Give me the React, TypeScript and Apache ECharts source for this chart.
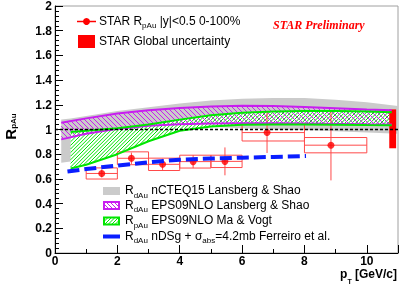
import { useEffect, useRef } from 'react';
import * as echarts from 'echarts';

const FONT = '"Liberation Sans", Arial, Helvetica, sans-serif';
const SERIF = '"Liberation Serif", "Times New Roman", serif';

// STAR R_pAu data points
const starPt = [1.5, 2.45, 3.45, 4.43, 5.45, 6.8, 8.85];
const starR = [0.644, 0.767, 0.718, 0.74, 0.742, 0.975, 0.873];
const starStat = [0.033, 0.046, 0.045, 0.053, 0.113, 0.165, 0.285];
const boxLow = [1, 2, 3, 4, 5, 6, 8];
const boxHigh = [2, 3, 4, 5, 6, 8, 10];
const starSys = [0.045, 0.052, 0.05, 0.052, 0.05, 0.068, 0.062];

// global uncertainty
const globalX = [10.72, 10.94];
const globalY = [0.848, 1.163];

// nCTEQ15 (gray)
const grayX = [0.2, 0.5, 1, 2, 3, 4, 5, 6, 7, 8, 9, 10, 11];
const grayHi = [1.08, 1.09, 1.11, 1.15, 1.18, 1.21, 1.235, 1.25, 1.255, 1.255, 1.24, 1.22, 1.19];
const grayLo = [0.73, 0.74, 0.8, 0.9, 0.96, 1.0, 1.02, 1.01, 1.0, 0.995, 0.985, 0.975, 0.965];

// EPS09NLO Lansberg & Shao (magenta)
const magX = [0.2, 1, 2, 3, 4, 5, 6, 7, 8, 9, 10, 10.8];
const magHi = [1.055, 1.09, 1.13, 1.155, 1.175, 1.187, 1.192, 1.19, 1.182, 1.172, 1.162, 1.155];
const magLo = [0.92, 0.965, 1.005, 1.03, 1.042, 1.048, 1.05, 1.05, 1.048, 1.045, 1.042, 1.04];

// EPS09NLO Ma & Vogt (green)
const grnX = [0.5, 1, 2, 3, 4, 5, 6, 7, 8, 9, 10, 10.8];
const grnHi = [0.98, 0.99, 1.01, 1.04, 1.08, 1.115, 1.135, 1.145, 1.15, 1.15, 1.145, 1.14];
const grnLo = [0.684, 0.714, 0.8, 0.905, 0.99, 1.025, 1.038, 1.04, 1.04, 1.038, 1.036, 1.035];

// nDSg Ferreiro (blue dashed)
const blueX = [0.4, 1, 2, 3, 4, 5, 6, 7, 8.05];
const blueY = [0.66, 0.68, 0.708, 0.735, 0.755, 0.765, 0.772, 0.778, 0.785];

const legendTop = [
  '{b|STAR R}{s|pAu}{b| |y|<0.5 0-100%}',
  '{b|STAR Global uncertainty}',
];
const legendBottom = [
  '{b|R}{s|dAu}{b| nCTEQ15 Lansberg & Shao}',
  '{b|R}{s|dAu}{b| EPS09NLO Lansberg & Shao}',
  '{b|R}{s|pAu}{b| EPS09NLO Ma & Vogt}',
  '{b|R}{s|dAu}{b| nDSg + σ}{s|abs}{b|=4.2mb Ferreiro et al.}',
];

const RED = '#ff0000';
const BOXRED = '#ff4a4a';
const MAG = '#c81ef0';
const GRN = '#00e600';
const BLUE = '#0a1eff';
const GRAY = '#cbcbcb';

function zip(xs: number[], ys: number[]) {
  return xs.map((x, i) => [x, ys[i]]);
}

function interp(arr: number[][], px: number) {
  if (px <= arr[0][0]) return arr[0][1];
  for (let i = 0; i < arr.length - 1; i++) {
    const a = arr[i], b = arr[i + 1];
    if (px <= b[0]) return a[1] + ((b[1] - a[1]) * (px - a[0])) / (b[0] - a[0]);
  }
  return arr[arr.length - 1][1];
}

// diagonal hatch lines clipped to the band between up (pixel) and lo (pixel)
function hatchLines(up: number[][], lo: number[][], spacing: number, dir: 'back' | 'fwd', color: string, lw: number) {
  const x0 = up[0][0], x1 = up[up.length - 1][0];
  let yMin = Infinity, yMax = -Infinity;
  up.forEach((p) => (yMin = Math.min(yMin, p[1])));
  lo.forEach((p) => (yMax = Math.max(yMax, p[1])));
  const back = dir === 'back';
  const cStart = back ? yMin - x1 : yMin + x0;
  const cEnd = back ? yMax - x0 : yMax + x1;
  const out: any[] = [];
  const step = 0.4;
  for (let c = Math.floor(cStart / spacing) * spacing; c <= cEnd; c += spacing) {
    let s: number[] | null = null;
    let prev: number[] | null = null;
    for (let px = x0; px <= x1 + 1e-6; px += step) {
      const y = back ? px + c : -px + c;
      const inside = y >= interp(up, px) && y <= interp(lo, px);
      if (inside && !s) s = [px, y];
      if (!inside && s && prev) {
        out.push({ type: 'line', shape: { x1: s[0], y1: s[1], x2: prev[0], y2: prev[1] }, style: { stroke: color, lineWidth: lw } });
        s = null;
      }
      prev = [px, y];
    }
    if (s && prev) out.push({ type: 'line', shape: { x1: s[0], y1: s[1], x2: prev[0], y2: prev[1] }, style: { stroke: color, lineWidth: lw } });
  }
  return out;
}

function band(xs: number[], lo: number[], hi: number[], bg: string | null, hatch: { spacing: number; dir: 'back' | 'fwd'; color: string } | null) {
  return {
    type: 'custom',
    silent: true,
    data: [[xs[0], lo[0]]],
    encode: { x: 0, y: 1 },
    renderItem: (_p: any, api: any) => {
      const up = xs.map((x, i) => api.coord([x, hi[i]]));
      const dn = xs.map((x, i) => api.coord([x, lo[i]]));
      const children: any[] = [];
      if (bg) {
        const pts = up.concat(dn.slice().reverse());
        children.push({ type: 'polygon', shape: { points: pts }, style: { fill: bg, lineWidth: 0 } });
      }
      if (hatch) children.push(...hatchLines(up, dn, hatch.spacing, hatch.dir, hatch.color, 1));
      return { type: 'group', children };
    },
  };
}

function edge(xs: number[], ys: number[], color: string) {
  return {
    type: 'line',
    silent: true,
    data: zip(xs, ys),
    symbol: 'none',
    lineStyle: { color, width: 2 },
  };
}

function iconHatch(x: number, y: number, w: number, h: number, spacing: number, dir: 'back' | 'fwd', color: string) {
  const up = [[x, y], [x + w, y]];
  const lo = [[x, y + h], [x + w, y + h]];
  return hatchLines(up, lo, spacing, dir, color, 1).map((e) => ({ ...e, z: 101 }));
}

export default function App() {
  const ref = useRef<HTMLDivElement>(null);
  useEffect(() => {
    const chart = echarts.init(ref.current!, null, { renderer: 'svg' });

    const baseRich = (size: number, bold: boolean, lh: number, subPad: number, subSize: number) => ({
      b: { fontSize: size, fontFamily: FONT, fontWeight: bold ? 'bold' : 'normal', lineHeight: lh, verticalAlign: 'top', fill: '#000' },
      s: { fontSize: subSize, fontFamily: FONT, fontWeight: bold ? 'bold' : 'normal', lineHeight: subSize, padding: [subPad, 0, 0, 0], verticalAlign: 'top', fill: '#000' },
    });

    const rowsY = [191, 205.5, 221, 236.5];

    const option: any = {
      animation: false,
      grid: { left: 55, right: 1, top: 5, bottom: 33, show: true, borderColor: '#a0a0a0', borderWidth: 1 },
      xAxis: {
        type: 'value',
        min: 0,
        max: 11,
        interval: 2,
        axisLine: { show: true, onZero: false, lineStyle: { color: '#000', width: 1 } },
        axisTick: { show: true, inside: true, length: 8, lineStyle: { color: '#000' } },
        minorTick: { show: true, splitNumber: 2, length: 4, lineStyle: { color: '#000' } },
        splitLine: { show: false },
        axisLabel: { margin: 2, fontSize: 12, lineHeight: 12, fontWeight: 'bold', fontFamily: FONT, color: '#000', showMaxLabel: false },
      },
      yAxis: {
        type: 'value',
        min: 0,
        max: 2,
        interval: 0.2,
        axisLine: { show: true, onZero: false, lineStyle: { color: '#000', width: 1 } },
        axisTick: { show: true, inside: true, length: 8, lineStyle: { color: '#000' } },
        minorTick: { show: true, splitNumber: 5, length: 4, lineStyle: { color: '#000' } },
        splitLine: { show: false },
        axisLabel: { margin: 3, fontSize: 12, fontWeight: 'bold', fontFamily: FONT, color: '#000' },
      },
      series: [
        band(grayX, grayLo, grayHi, GRAY, null),
        band(grnX, grnLo, grnHi, '#ffffff', { spacing: 3.6, dir: 'fwd', color: GRN }),
        band(magX, magLo, magHi, null, { spacing: 5, dir: 'back', color: MAG }),
        edge(magX, magHi, MAG),
        edge(magX, magLo, MAG),
        edge(grnX, grnHi, GRN),
        edge(grnX, grnLo, GRN),
        {
          type: 'line',
          silent: true,
          data: [[0, 1], [11, 1]],
          symbol: 'none',
          lineStyle: { color: '#000', width: 1.5, type: [3, 2] },
        },
        {
          type: 'custom',
          silent: true,
          data: starPt.map((x, i) => [x, starR[i], boxLow[i], boxHigh[i], starSys[i], starStat[i]]),
          encode: { x: 0, y: 1 },
          renderItem: (_p: any, api: any) => {
            const x = api.value(0), y = api.value(1), xl = api.value(2), xh = api.value(3);
            const sys = api.value(4), st = api.value(5);
            const tl = api.coord([xl, y + sys]);
            const br = api.coord([xh, y - sys]);
            const cl = api.coord([xl, y]);
            const cr = api.coord([xh, y]);
            const et = api.coord([x, y + st]);
            const eb = api.coord([x, y - st]);
            return {
              type: 'group',
              children: [
                { type: 'rect', shape: { x: tl[0], y: tl[1], width: br[0] - tl[0], height: br[1] - tl[1] }, style: { fill: 'none', stroke: BOXRED, lineWidth: 1 } },
                { type: 'line', shape: { x1: cl[0], y1: cl[1], x2: cr[0], y2: cr[1] }, style: { stroke: BOXRED, lineWidth: 1 } },
                { type: 'line', shape: { x1: et[0], y1: et[1], x2: eb[0], y2: eb[1] }, style: { stroke: BOXRED, lineWidth: 1 } },
              ],
            };
          },
        },
        {
          type: 'line',
          silent: true,
          data: zip(blueX, blueY),
          symbol: 'none',
          lineStyle: { color: BLUE, width: 4, type: [12, 5] },
        },
        {
          type: 'scatter',
          silent: true,
          data: zip(starPt, starR),
          symbol: 'circle',
          symbolSize: 7,
          itemStyle: { color: RED },
        },
        {
          type: 'custom',
          silent: true,
          data: [[globalX[0], globalY[0], globalX[1], globalY[1]]],
          encode: { x: 0, y: 1 },
          renderItem: (_p: any, api: any) => {
            const a = api.coord([api.value(0), api.value(3)]);
            const b = api.coord([api.value(2), api.value(1)]);
            return { type: 'rect', shape: { x: a[0], y: a[1], width: b[0] - a[0], height: b[1] - a[1] }, style: { fill: RED } };
          },
        },
      ],
      graphic: [
        // top legend
        { type: 'line', shape: { x1: 77, y1: 21.5, x2: 96, y2: 21.5 }, style: { stroke: RED, lineWidth: 1.5 }, z: 100 },
        { type: 'circle', shape: { cx: 86.5, cy: 21.5, r: 3.5 }, style: { fill: RED }, z: 100 },
        { type: 'rect', shape: { x: 78, y: 35, width: 17, height: 13 }, style: { fill: RED }, z: 100 },
        {
          type: 'text', x: 99, y: 14.5, z: 100,
          style: { text: legendTop[0], rich: baseRich(12, false, 14, 7, 8), align: 'left', verticalAlign: 'top' },
        },
        {
          type: 'text', x: 99, y: 35, z: 100,
          style: { text: legendTop[1], rich: baseRich(12, false, 14, 7, 8), align: 'left', verticalAlign: 'top' },
        },
        {
          type: 'text', x: 273, y: 25, z: 100,
          style: { text: 'STAR Preliminary', fill: RED, fontSize: 12, fontWeight: 'bold', fontStyle: 'italic', fontFamily: SERIF, align: 'left', verticalAlign: 'middle' },
        },
        // bottom legend icons
        { type: 'rect', shape: { x: 103, y: rowsY[0] - 4, width: 17, height: 8 }, style: { fill: GRAY }, z: 100 },
        { type: 'rect', shape: { x: 104, y: rowsY[1] - 3.5, width: 15, height: 7 }, style: { fill: '#fff', stroke: MAG, lineWidth: 2 }, z: 100 },
        ...iconHatch(104, rowsY[1] - 3.5, 15, 7, 4, 'back', MAG),
        { type: 'rect', shape: { x: 104, y: rowsY[2] - 3.5, width: 15, height: 7 }, style: { fill: '#fff', stroke: GRN, lineWidth: 2 }, z: 100 },
        ...iconHatch(104, rowsY[2] - 3.5, 15, 7, 3.5, 'fwd', GRN),
        { type: 'line', shape: { x1: 103, y1: rowsY[3], x2: 120, y2: rowsY[3] }, style: { stroke: BLUE, lineWidth: 4 }, z: 100 },
        ...legendBottom.map((t, i) => ({
          type: 'text', x: 125, y: rowsY[i] - 7, z: 100,
          style: { text: t, rich: baseRich(12, false, 14, 7, 8), align: 'left', verticalAlign: 'top' },
        })),
        // axis titles
        {
          type: 'text', x: 397, y: 268, z: 100,
          style: {
            text: '{b|p}{s|T}{b| [GeV/c]}',
            rich: baseRich(12, true, 12, 10, 7),
            align: 'right', verticalAlign: 'top',
          },
        },
        {
          type: 'text', x: 2.5, y: 126.5, rotation: Math.PI / 2, z: 100,
          style: {
            text: '{b|R}{s|pAu}',
            rich: {
              b: { fontSize: 15, fontFamily: FONT, fontWeight: 'bold', lineHeight: 16, verticalAlign: 'top', fill: '#000' },
              s: { fontSize: 8, fontFamily: FONT, fontWeight: 'bold', lineHeight: 8, padding: [7, 0, 0, 0], verticalAlign: 'top', fill: '#000' },
            },
            align: 'center', verticalAlign: 'top',
          },
        },
      ],
    };
    chart.setOption(option);
    return () => chart.dispose();
  }, []);
  return <div ref={ref} style={{ position: 'fixed', left: 0, top: 0, width: 399, height: 286 }} />;
}
